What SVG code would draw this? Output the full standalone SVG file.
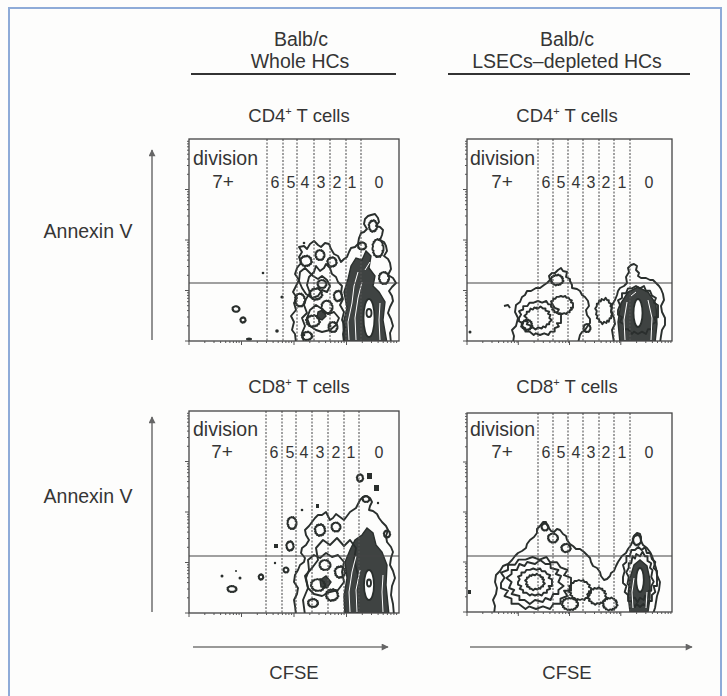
<svg xmlns="http://www.w3.org/2000/svg" xmlns:xlink="http://www.w3.org/1999/xlink" width="727" height="696" viewBox="0 0 727 696">
<style>
text{font-family:"Liberation Sans",Arial,sans-serif;fill:#353535}
.h{font-size:19.5px;text-anchor:middle}
.t{font-size:18.5px;text-anchor:middle}
.n{font-size:16px;text-anchor:middle}
.sv{font-size:19px;text-anchor:middle}
.dv{font-size:19.5px}
.box{fill:none;stroke:#444;stroke-width:1.3}
.gate{stroke:#444;stroke-width:1.1}
.dot{stroke:#555;stroke-width:1.1;stroke-dasharray:2 1.5}
.c{fill:none;stroke:#2a2f2d;stroke-width:1.9;stroke-linejoin:round}
.d{fill:#2a2f2d;fill-opacity:0.9;stroke:#2a2f2d;stroke-width:1.4}
.w{fill:none;stroke:#fff;stroke-width:1}
.hole{fill:#fff;stroke:#2a2f2d;stroke-width:1.8}
.k{fill:#2a2f2d}
.ax{stroke:#777;stroke-width:1.6;fill:none}
.tk{stroke:#555;stroke-width:1;fill:none}
</style>
<defs>
<polygon id="ra" vector-effect="non-scaling-stroke" points="10,0 10,3 8,3 9,5 7,6 7,8 5,8 4,10 2,9 0,10 -2,9 -3,10 -5,8 -7,8 -7,6 -9,5 -8,3 -10,2 -10,0 -9,-2 -10,-4 -8,-5 -8,-7 -6,-7 -5,-9 -3,-9 -1,-10 1,-9 3,-10 4,-8 6,-8 7,-6 9,-5 8,-3 10,-2"/>
<polygon id="rb" vector-effect="non-scaling-stroke" points="9,0 11,2 9,4 9,6 7,6 6,9 4,8 3,10 0,9 -2,11 -4,9 -6,9 -6,7 -9,6 -8,4 -10,3 -9,0 -11,-2 -9,-4 -9,-6 -7,-6 -6,-9 -4,-8 -3,-10 0,-9 2,-11 4,-9 6,-9 6,-7 9,-6 8,-4 10,-3"/>
<path id="xt" class="tk" d="M0,0v4M15.8,0v2M25,0v2M31.6,0v2M36.7,0v2M40.9,0v2M44.4,0v2M47.4,0v2M50.1,0v2"/>
<path id="yt" class="tk" d="M0,0h-4M0,-15.2h-2M0,-24h-2M0,-30.4h-2M0,-35.3h-2M0,-39.3h-2M0,-42.7h-2M0,-45.6h-2M0,-48.2h-2"/>
<marker id="ah" viewBox="0 0 10 10" refX="9" refY="5" markerWidth="9" markerHeight="7" markerUnits="userSpaceOnUse" orient="auto"><path d="M0,0L10,5L0,10Z" fill="#666"/></marker>
<clipPath id="cp1"><rect x="189" y="139" width="210" height="202"/></clipPath>
<clipPath id="cp2"><rect x="467" y="139" width="205" height="202"/></clipPath>
<clipPath id="cp3"><rect x="189" y="411" width="210" height="202"/></clipPath>
<clipPath id="cp4"><rect x="467" y="413" width="205" height="199"/></clipPath>
</defs>
<rect width="727" height="696" fill="#fdfdfc"/>
<path d="M9,696V8H721V696" fill="none" stroke="#8eabd8" stroke-width="2"/>

<g id="headers">
<text class="h" x="301" y="46">Balb/c</text>
<text class="h" x="300" y="68">Whole HCs</text>
<line x1="191" y1="74" x2="396" y2="74" stroke="#333" stroke-width="2.2"/>
<text class="h" x="567" y="46">Balb/c</text>
<text class="h" x="567" y="68">LSECs–depleted HCs</text>
<line x1="448" y1="74" x2="690" y2="74" stroke="#333" stroke-width="2.2"/>
<text class="t" x="299" y="122">CD4<tspan font-size="11" dy="-7">+</tspan><tspan dy="7"> T cells</tspan></text>
<text class="t" x="567" y="122">CD4<tspan font-size="11" dy="-7">+</tspan><tspan dy="7"> T cells</tspan></text>
<text class="t" x="299" y="393">CD8<tspan font-size="11" dy="-7">+</tspan><tspan dy="7"> T cells</tspan></text>
<text class="t" x="567" y="393">CD8<tspan font-size="11" dy="-7">+</tspan><tspan dy="7"> T cells</tspan></text>
<text class="h" x="88" y="238">Annexin V</text>
<text class="h" x="88" y="503">Annexin V</text>
<text class="t" x="294" y="679">CFSE</text>
<text class="t" x="567" y="679">CFSE</text>
</g>

<g id="axes">
<line class="ax" x1="152" y1="340" x2="152" y2="150" marker-end="url(#ah)"/>
<line class="ax" x1="152" y1="612" x2="152" y2="417" marker-end="url(#ah)"/>
<line class="ax" x1="193" y1="647" x2="388" y2="647" marker-end="url(#ah)"/>
<line class="ax" x1="470" y1="647" x2="692" y2="647" marker-end="url(#ah)"/>
</g>

<!-- Plot 1 -->
<g id="plot1">
<g clip-path="url(#cp1)">
<path class="c" d="M296,343 L295,334 L292,330 L294,322 L291,316 L296,310 L294,303 L297,298 L293,292 L296,286 L299,280 L295,274 L297,268 L301,263 L299,257 L302,252 L299,247 L304,246 L307,249 L310,244 L314,241 L318,245 L321,247 L325,243 L329,244 L331,249 L334,254 L338,256 L341,262 L344,259 L347,257 L349,252 L351,248 L355,247 L358,244 L359,238 L361,233 L364,232 L367,229 L364,224 L365,219 L368,216 L371,215 L375,214 L378,218 L379,222 L376,226 L380,227 L383,230 L382,235 L380,240 L384,242 L386,246 L387,251 L384,256 L388,259 L390,263 L391,269 L388,275 L393,278 L396,283 L392,287 L389,291 L392,296 L393,301 L390,307 L388,313 L391,319 L393,326 L390,333 L391,343"/>
<path class="c" d="M304,343 L302,333 L305,326 L302,318 L307,313 L304,305 L306,299 L310,293 L307,285 L309,277 L314,272 L316,266 L320,271 L324,268 L326,264 L330,268 L332,274 L336,277 L338,282 L342,286 L341,293 L343,299 L340,305 L344,312 L342,320 L345,327 L343,334 L344,343"/>
<path class="c" d="M300,272 L305,268 L309,272 L313,276 L318,279 L322,276 L327,280 L330,286 L327,292 L322,290 L318,296 L312,298 L306,294 L302,288 L299,281 Z"/>
<path class="c" d="M310,310 L316,305 L322,309 L328,314 L334,312 L339,318 L336,325 L330,330 L322,332 L316,330 L310,326 L307,318 Z"/>
<path class="d" d="M318,312 L323,310 L326,316 L322,320 L317,318 Z"/>
<use href="#rb" class="c" transform="translate(306,261) scale(0.55,0.5)"/>
<use href="#ra" class="c" transform="translate(320,255) scale(0.45,0.5)"/>
<use href="#rb" class="c" transform="translate(332,262) scale(0.45,0.45)"/>
<use href="#ra" class="c" transform="translate(300,300) scale(0.5,0.65)"/>
<use href="#rb" class="c" transform="translate(316,294) scale(0.6,0.55)"/>
<use href="#ra" class="c" transform="translate(327,307) scale(0.55,0.65)"/>
<use href="#rb" class="c" transform="translate(313,321) scale(0.65,0.55)"/>
<use href="#ra" class="c" transform="translate(333,327) scale(0.45,0.5)"/>
<use href="#rb" class="c" transform="translate(307,336) scale(0.5,0.4)"/>
<use href="#ra" class="c" transform="translate(322,284) scale(0.45,0.4)"/>
<use href="#rb" class="c" transform="translate(338,296) scale(0.4,0.5)"/>
<path class="d" d="M344,343 L343,324 L347,308 L344,292 L348,279 L351,266 L356,258 L362,260 L366,251 L371,256 L369,268 L375,276 L373,286 L379,292 L385,302 L383,320 L387,343 Z"/>
<path class="w" d="M349,340 L348,322 L352,303 L354,286 L358,272 M356,340 L355,318 L358,298 L362,282 M380,340 L379,320 L380,303 M365,270 L370,262"/>
<ellipse class="hole" cx="369" cy="318" rx="5.5" ry="19"/>
<ellipse class="c" cx="369" cy="313" rx="2.5" ry="4"/>
<use href="#rb" class="c" transform="translate(373,226) scale(0.4,0.55)"/>
<use href="#ra" class="c" transform="translate(378,248) scale(0.55,0.9)"/>
<use href="#rb" class="c" transform="translate(362,246) scale(0.4,0.35)"/>
<use href="#ra" class="c" transform="translate(384,278) scale(0.5,0.6)"/>
<use href="#ra" class="c" transform="translate(236,309) scale(0.35,0.28)"/>
<use href="#rb" class="c" transform="translate(243,320) scale(0.25,0.25)"/>
<ellipse class="k" cx="249" cy="339" rx="3" ry="1.5"/>
<circle class="k" cx="263" cy="273" r="1.3"/>
<circle class="k" cx="282" cy="297" r="1.6"/>
<circle class="k" cx="277" cy="331" r="1.8"/>
<circle class="k" cx="304" cy="335" r="1.3"/>
<circle class="k" cx="330" cy="326" r="1.5"/>
<circle class="k" cx="304" cy="243" r="1.3"/>
</g>
<g>
<line class="dot" x1="267" y1="139" x2="267" y2="341"/>
<line class="dot" x1="283" y1="139" x2="283" y2="341"/>
<line class="dot" x1="297" y1="139" x2="297" y2="341"/>
<line class="dot" x1="314" y1="139" x2="314" y2="341"/>
<line class="dot" x1="330" y1="139" x2="330" y2="341"/>
<line class="dot" x1="346" y1="139" x2="346" y2="341"/>
<line class="dot" x1="361" y1="139" x2="361" y2="341"/>
</g>
<line class="gate" x1="189" y1="283" x2="399" y2="283"/>
<rect class="box" x="189" y="139" width="210" height="202"/>
<use href="#xt" transform="translate(189,341)"/><use href="#xt" transform="translate(241.5,341)"/><use href="#xt" transform="translate(294,341)"/><use href="#xt" transform="translate(346.5,341)"/>
<use href="#yt" transform="translate(189,341)"/><use href="#yt" transform="translate(189,290.5)"/><use href="#yt" transform="translate(189,240)"/><use href="#yt" transform="translate(189,189.5)"/>
<text class="dv" x="193" y="165">division</text>
<text class="sv" x="223" y="188">7+</text>
<text class="n" x="275" y="188">6</text><text class="n" x="291" y="188">5</text><text class="n" x="305" y="188">4</text><text class="n" x="321" y="188">3</text><text class="n" x="337" y="188">2</text><text class="n" x="352" y="188">1</text><text class="n" x="379" y="188">0</text>
</g>

<!-- Plot 2 -->
<g id="plot2">
<g clip-path="url(#cp2)">
<path class="c" d="M513,343 L514,336 L512,330 L516,326 L518,318 L515,312 L516,305 L520,302 L522,297 L525,295 L527,291 L531,291 L536,288 L540,288 L544,285 L547,283 L550,280 L549,276 L552,273 L555,273 L558,270 L561,268 L563,271 L567,272 L566,277 L570,279 L570,281 L572,285 L572,288 L577,289 L580,291 L582,295 L585,297 L588,301 L589,306 L586,310 L587,315 L590,319 L590,323 L587,327 L585,330 L582,332 L580,335 L578,343"/>
<use href="#ra" class="c" transform="translate(540,318) scale(2.1,1.7)"/>
<use href="#rb" class="c" transform="translate(538,318) scale(1.25,1.05)"/>
<use href="#ra" class="c" transform="translate(562,305) scale(1.1,0.9)"/>
<use href="#rb" class="c" transform="translate(557,280) scale(0.6,0.5)"/>
<use href="#ra" class="c" transform="translate(587,328) scale(0.35,0.4)"/>
<use href="#rb" class="c" transform="translate(527,325) scale(0.5,0.5)"/>
<circle class="k" cx="537" cy="308" r="1.6"/>
<path class="c" d="M504,306 L508,305 L510,308"/>
<use href="#rb" class="c" transform="translate(604,311) scale(0.8,1.2)"/>
<path class="c" d="M614,343 L613,336 L612,330 L615,324 L614,318 L611,312 L612,305 L615,300 L617,295 L618,291 L620,288 L624,286 L627,283 L626,277 L629,272 L628,268 L631,265 L634,264 L637,266 L636,270 L639,273 L638,276 L641,278 L646,278 L650,280 L653,280 L656,283 L659,286 L661,289 L663,294 L664,300 L661,306 L662,312 L665,318 L665,325 L662,330 L661,336 L660,343"/>
<use href="#ra" class="c" transform="translate(638,310) scale(2.0,2.4)"/>
<path class="d" d="M620,343 L618,322 L621,303 L628,292 L638,287 L648,292 L656,304 L657,324 L655,343 Z"/>
<path class="w" d="M625,340 L624,320 L627,302 M651,340 L652,318 L648,300 M631,296 L636,292"/>
<ellipse class="hole" cx="638" cy="313" rx="4.5" ry="14"/>
<circle class="k" cx="470" cy="332" r="1.5"/>
</g>
<g>
<line class="dot" x1="538" y1="139" x2="538" y2="341"/>
<line class="dot" x1="553" y1="139" x2="553" y2="341"/>
<line class="dot" x1="568" y1="139" x2="568" y2="341"/>
<line class="dot" x1="583" y1="139" x2="583" y2="341"/>
<line class="dot" x1="599" y1="139" x2="599" y2="341"/>
<line class="dot" x1="614" y1="139" x2="614" y2="341"/>
<line class="dot" x1="630" y1="139" x2="630" y2="341"/>
</g>
<line class="gate" x1="467" y1="283" x2="672" y2="283"/>
<rect class="box" x="467" y="139" width="205" height="202"/>
<use href="#xt" transform="translate(467,341)"/><use href="#xt" transform="translate(518.3,341)"/><use href="#xt" transform="translate(569.5,341)"/><use href="#xt" transform="translate(620.8,341)"/>
<use href="#yt" transform="translate(467,341)"/><use href="#yt" transform="translate(467,290.5)"/><use href="#yt" transform="translate(467,240)"/><use href="#yt" transform="translate(467,189.5)"/>
<text class="dv" x="470" y="165">division</text>
<text class="sv" x="502" y="188">7+</text>
<text class="n" x="546" y="188">6</text><text class="n" x="561" y="188">5</text><text class="n" x="576" y="188">4</text><text class="n" x="591" y="188">3</text><text class="n" x="606" y="188">2</text><text class="n" x="622" y="188">1</text><text class="n" x="649" y="188">0</text>
</g>

<!-- Plot 3 -->
<g id="plot3">
<g clip-path="url(#cp3)">
<path class="c" d="M296,615 L295,606 L294,600 L297,594 L298,588 L294,582 L295,575 L298,570 L300,565 L304,562 L305,558 L301,553 L302,548 L306,545 L309,540 L306,535 L305,530 L309,526 L312,522 L315,518 L318,515 L322,515 L326,512 L328,516 L330,520 L333,518 L336,514 L340,517 L344,520 L347,516 L350,512 L353,510 L356,508 L358,504 L360,500 L363,497 L366,496 L370,498 L372,502 L370,506 L369,510 L373,511 L377,514 L379,518 L382,522 L386,526 L388,530 L386,536 L387,542 L391,547 L393,552 L391,558 L390,565 L393,571 L395,578 L392,586 L391,595 L393,604 L394,615"/>
<path class="c" d="M305,615 L303,600 L308,588 L305,576 L312,568 L318,560 L316,548 L323,540 L330,545 L337,538 L344,546 L350,540 L356,548 L354,560 L358,575 L356,595 L358,615"/>
<path class="c" d="M308,560 L314,555 L320,558 L326,553 L332,557 L338,555 L344,562 L342,572 L344,582 L338,590 L330,592 L322,596 L314,594 L308,588 L306,578 L309,570 Z"/>
<path class="d" d="M320,580 L326,576 L331,582 L327,588 L321,587 Z"/>
<use href="#ra" class="c" transform="translate(318,585) scale(0.7,0.6)"/>
<use href="#rb" class="c" transform="translate(332,595) scale(0.6,0.55)"/>
<use href="#ra" class="c" transform="translate(325,565) scale(0.55,0.5)"/>
<use href="#rb" class="c" transform="translate(340,572) scale(0.5,0.55)"/>
<use href="#ra" class="c" transform="translate(313,603) scale(0.5,0.4)"/>
<use href="#rb" class="c" transform="translate(320,530) scale(0.5,0.55)"/>
<use href="#ra" class="c" transform="translate(336,527) scale(0.45,0.45)"/>
<use href="#ra" class="c" transform="translate(292,523) scale(0.45,0.6)"/>
<use href="#rb" class="c" transform="translate(290,546) scale(0.35,0.45)"/>
<rect class="k" x="274" y="544" width="4" height="4"/>
<circle class="k" cx="302" cy="510" r="1.3"/>
<rect class="k" x="316" y="504" width="3" height="4"/>
<path class="d" d="M345,615 L344,596 L347,578 L345,562 L350,550 L355,540 L362,535 L367,528 L373,533 L376,545 L382,552 L387,565 L386,585 L389,615 Z"/>
<path class="w" d="M350,612 L349,592 L352,572 L356,556 M357,612 L356,590 L360,570 M383,612 L382,592 L383,575"/>
<ellipse class="hole" cx="369" cy="585" rx="5" ry="15"/>
<ellipse class="c" cx="369" cy="583" rx="2" ry="3.5"/>
<use href="#rb" class="c" transform="translate(360,478) scale(0.3,0.35)"/>
<rect class="k" x="367" y="473" width="5" height="6"/>
<rect class="k" x="374" y="485" width="5" height="6"/>
<use href="#ra" class="c" transform="translate(366,499) scale(0.35,0.3)"/>
<circle class="k" cx="378" cy="503" r="1.2"/>
<use href="#rb" class="c" transform="translate(387,534) scale(0.3,0.35)"/>
<circle class="k" cx="222" cy="576" r="1.5"/>
<use href="#ra" class="c" transform="translate(232,589) scale(0.45,0.3)"/>
<circle class="k" cx="240" cy="578" r="1.5"/>
<circle class="k" cx="236" cy="571" r="1"/>
<use href="#rb" class="c" transform="translate(261,577) scale(0.22,0.25)"/>
<circle class="k" cx="275" cy="563" r="1.2"/>
<use href="#ra" class="c" transform="translate(286,570) scale(0.25,0.25)"/>
<circle class="k" cx="296" cy="572" r="1.2"/>
</g>
<g>
<line class="dot" x1="266" y1="411" x2="266" y2="613"/>
<line class="dot" x1="282" y1="411" x2="282" y2="613"/>
<line class="dot" x1="296" y1="411" x2="296" y2="613"/>
<line class="dot" x1="312" y1="411" x2="312" y2="613"/>
<line class="dot" x1="328" y1="411" x2="328" y2="613"/>
<line class="dot" x1="344" y1="411" x2="344" y2="613"/>
<line class="dot" x1="359" y1="411" x2="359" y2="613"/>
</g>
<line class="gate" x1="189" y1="556" x2="399" y2="556"/>
<rect class="box" x="189" y="411" width="210" height="202"/>
<use href="#xt" transform="translate(189,613)"/><use href="#xt" transform="translate(241.5,613)"/><use href="#xt" transform="translate(294,613)"/><use href="#xt" transform="translate(346.5,613)"/>
<use href="#yt" transform="translate(189,613)"/><use href="#yt" transform="translate(189,562.5)"/><use href="#yt" transform="translate(189,512)"/><use href="#yt" transform="translate(189,461.5)"/>
<text class="dv" x="193" y="436">division</text>
<text class="sv" x="222" y="458">7+</text>
<text class="n" x="274" y="458">6</text><text class="n" x="290" y="458">5</text><text class="n" x="304" y="458">4</text><text class="n" x="320" y="458">3</text><text class="n" x="336" y="458">2</text><text class="n" x="351" y="458">1</text><text class="n" x="379" y="458">0</text>
</g>

<!-- Plot 4 -->
<g id="plot4">
<g clip-path="url(#cp4)">
<path class="c" d="M494,614 L495,606 L493,600 L496,594 L497,588 L495,582 L496,575 L500,571 L503,566 L508,564 L512,560 L515,556 L518,553 L522,551 L526,548 L527,544 L530,540 L534,537 L537,533 L537,529 L540,526 L543,522 L546,522 L547,525 L549,528 L551,531 L554,532 L557,529 L560,530 L563,534 L566,536 L567,540 L570,544 L573,546 L576,549 L580,549 L584,552 L587,555 L590,558 L591,562 L593,566 L597,568 L600,572 L601,576 L604,580 L607,579 L610,576 L611,573 L614,571 L616,566 L618,562 L620,559 L622,556 L626,553 L628,549 L631,545 L633,540 L634,536 L637,533 L640,534 L641,537 L641,541 L643,545 L647,548 L650,552 L652,556 L654,562 L656,568 L657,575 L660,582 L659,590 L657,596 L656,602 L655,608 L653,614"/>
<use href="#ra" class="c" transform="translate(536,583) scale(3.5,2.6)"/>
<use href="#rb" class="c" transform="translate(535,582) scale(2.6,2.0)"/>
<use href="#ra" class="c" transform="translate(535,582) scale(1.7,1.35)"/>
<use href="#rb" class="c" transform="translate(535,582) scale(0.9,0.75)"/>
<use href="#ra" class="c" transform="translate(580,590) scale(1.1,1.0)"/>
<use href="#rb" class="c" transform="translate(597,596) scale(0.9,0.8)"/>
<use href="#ra" class="c" transform="translate(570,604) scale(0.8,0.6)"/>
<use href="#rb" class="c" transform="translate(610,604) scale(0.7,0.6)"/>
<use href="#ra" class="c" transform="translate(553,538) scale(0.5,0.45)"/>
<use href="#rb" class="c" transform="translate(566,548) scale(0.45,0.4)"/>
<use href="#ra" class="c" transform="translate(545,527) scale(0.35,0.35)"/>
<use href="#ra" class="c" transform="translate(640,577) scale(1.7,3.0)"/>
<use href="#rb" class="c" transform="translate(640,577) scale(1.25,2.3)"/>
<path class="d" d="M630,612 L628,595 L630,578 L634,565 L640,560 L647,566 L650,580 L650,598 L648,612 Z"/>
<path class="w" d="M633,608 L632,592 L634,578 M646,608 L647,592"/>
<ellipse class="hole" cx="640" cy="580" rx="3.8" ry="12"/>
<use href="#rb" class="c" transform="translate(637,540) scale(0.4,0.5)"/>
<rect class="k" x="468" y="590" width="3" height="4"/>
</g>
<g>
<line class="dot" x1="538" y1="413" x2="538" y2="612"/>
<line class="dot" x1="553" y1="413" x2="553" y2="612"/>
<line class="dot" x1="568" y1="413" x2="568" y2="612"/>
<line class="dot" x1="583" y1="413" x2="583" y2="612"/>
<line class="dot" x1="599" y1="413" x2="599" y2="612"/>
<line class="dot" x1="614" y1="413" x2="614" y2="612"/>
<line class="dot" x1="630" y1="413" x2="630" y2="612"/>
</g>
<line class="gate" x1="467" y1="556" x2="672" y2="556"/>
<rect class="box" x="467" y="413" width="205" height="199"/>
<use href="#xt" transform="translate(467,612)"/><use href="#xt" transform="translate(518.3,612)"/><use href="#xt" transform="translate(569.5,612)"/><use href="#xt" transform="translate(620.8,612)"/>
<use href="#yt" transform="translate(467,612)"/><use href="#yt" transform="translate(467,562)"/><use href="#yt" transform="translate(467,512)"/><use href="#yt" transform="translate(467,462)"/>
<text class="dv" x="470" y="436">division</text>
<text class="sv" x="502" y="458">7+</text>
<text class="n" x="546" y="458">6</text><text class="n" x="561" y="458">5</text><text class="n" x="576" y="458">4</text><text class="n" x="591" y="458">3</text><text class="n" x="606" y="458">2</text><text class="n" x="622" y="458">1</text><text class="n" x="649" y="458">0</text>
</g>
</svg>
